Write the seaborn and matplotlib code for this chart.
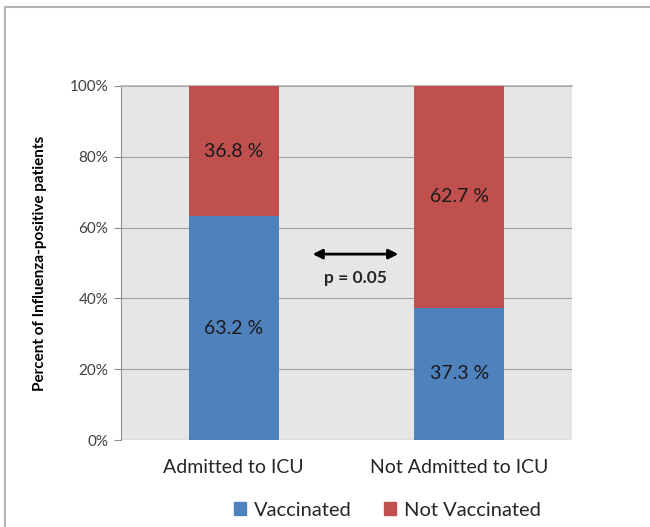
import matplotlib
matplotlib.use("Agg")
import matplotlib.pyplot as plt
from matplotlib.patches import Rectangle
import seaborn as sns
import pandas as pd

categories = ["Admitted to ICU", "Not Admitted to ICU"]
vaccinated = [63.2, 37.3]
not_vaccinated = [36.8, 62.7]
y_ticks = [0, 20, 40, 60, 80, 100]
p_text = "p = 0.05"

blue = "#4f81bd"
red = "#c0504d"

sns.set_theme(style="white")
plt.rcParams["font.family"] = ["Lato", "DejaVu Sans"]

df = pd.DataFrame({
    "category": categories,
    "vaccinated": vaccinated,
    "not_vaccinated": not_vaccinated,
})
df["total"] = df["vaccinated"] + df["not_vaccinated"]

fig = plt.figure(figsize=(6.5, 5.27), dpi=100)
ax = fig.add_axes([0.186, 0.165, 0.694, 0.672])
ax.set_facecolor("#e6e6e6")

# stacked bars: full height in red, vaccinated share in blue on top
sns.barplot(data=df, x="category", y="total", color=red, width=0.4,
            saturation=1, linewidth=0, edgecolor="none", ax=ax, zorder=3)
sns.barplot(data=df, x="category", y="vaccinated", color=blue, width=0.4,
            saturation=1, linewidth=0, edgecolor="none", ax=ax, zorder=4)

ax.set_ylim(0, 100)
ax.set_xlim(-0.5, 1.5)
ax.set_yticks(y_ticks)
ax.set_yticklabels([f"{t}%" for t in y_ticks], fontsize=11, color="#404040")
ax.tick_params(axis="y", length=5, width=0.8, color="#909090", direction="out", pad=4, left=True)
ax.tick_params(axis="x", length=0, labelsize=14, pad=14)
for lab in ax.get_xticklabels():
    lab.set_color("#262626")
ax.grid(axis="y", color="#a0a0a0", linewidth=0.8, zorder=0)
ax.set_axisbelow(True)
for side in ["right", "bottom"]:
    ax.spines[side].set_visible(False)
ax.spines["left"].set_color("#909090")
ax.spines["left"].set_linewidth(0.8)
ax.spines["top"].set_color("#b0b0b0")
ax.spines["top"].set_linewidth(1.2)
ax.axhline(0, color="#909090", linewidth=0.8, zorder=2)

ax.set_xlabel("")
ax.set_ylabel("Percent of Influenza-positive patients", fontsize=11,
              fontweight="bold", labelpad=16, color="#000000")

# segment value labels
for i in range(len(categories)):
    v = vaccinated[i]
    nv = not_vaccinated[i]
    ax.text(i, v / 2, f"{v} %", ha="center", va="center", fontsize=14,
            color="#1a1a1a", zorder=5)
    ax.text(i, v + nv / 2, f"{nv} %", ha="center", va="center", fontsize=14,
            color="#1a1a1a", zorder=5)

# significance arrow between the groups
ax.annotate("", xy=(0.35, 52.5), xytext=(0.73, 52.5),
            arrowprops=dict(arrowstyle="<|-|>", color="black", lw=2,
                            mutation_scale=14, shrinkA=0, shrinkB=0),
            zorder=5)
ax.text(0.54, 45.8, p_text, ha="center", va="center", fontsize=12.5,
        fontweight="bold", zorder=5)

# legend below the axes
handles = [Rectangle((0, 0), 1, 1, color=blue), Rectangle((0, 0), 1, 1, color=red)]
fig.legend(handles, ["Vaccinated", "Not Vaccinated"], loc="center",
           bbox_to_anchor=(0.596, 0.032), ncol=2, frameon=False, fontsize=14.5,
           handlelength=0.6, handleheight=0.6, handletextpad=0.4,
           columnspacing=1.6)

# outer chart frame
frame = Rectangle((0.008, -0.02), 1.2, 1.007, transform=fig.transFigure,
                  fill=False, edgecolor="#b4b4b4", linewidth=1.5)
fig.patches.append(frame)

fig.savefig("out.png", dpi=100)
